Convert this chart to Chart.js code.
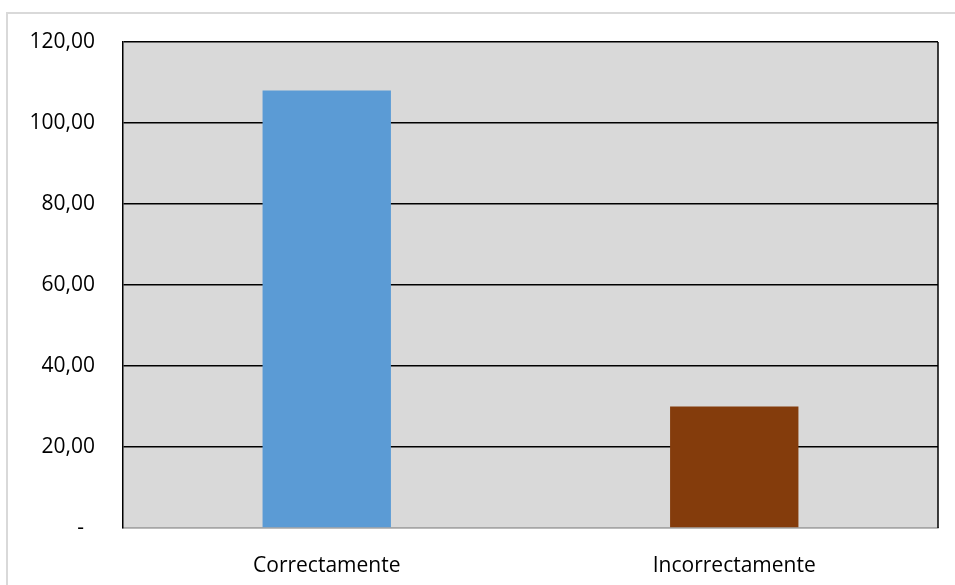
<!DOCTYPE html>
<html>
<head>
<meta charset="utf-8">
<script src="https://cdn.jsdelivr.net/npm/chart.js@4/dist/chart.umd.min.js"></script>
<style>
  html, body { margin: 0; padding: 0; background: #fff; overflow: hidden; }
  .frame { position: absolute; left: 6px; top: 12px; width: 1000px; height: 700px;
           border-left: 2px solid #d9d9d9; border-top: 2px solid #d9d9d9; }
  .graphBox { position: absolute; left: 0; top: 0; width: 955px; height: 585px; }
</style>
</head>
<body>
<div class="frame"></div>
<div class="graphBox"><canvas id="barChart" width="955" height="585"></canvas></div>
<script>
var categories = ["Correctamente", "Incorrectamente"];
var values = [108, 30];
var barColors = ["#5b9bd5", "#843c0c"];
var yTickLabels = ["-\u00a0\u00a0", "20,00", "40,00", "60,00", "80,00", "100,00", "120,00"];

// gray plot background + right edge of the frame
var plotFrame = {
  id: "plotFrame",
  beforeDraw: function (chart) {
    var ctx = chart.ctx, a = chart.chartArea;
    ctx.save();
    ctx.fillStyle = "#d9d9d9";
    ctx.fillRect(a.left, a.top, a.right - a.left, a.bottom - a.top);
    ctx.restore();
  },
  afterDraw: function (chart) {
    var ctx = chart.ctx, a = chart.chartArea;
    ctx.save();
    ctx.strokeStyle = "#000";
    ctx.lineWidth = 1.5;
    ctx.beginPath();
    ctx.moveTo(a.right, a.top);
    ctx.lineTo(a.right, a.bottom);
    ctx.stroke();
    ctx.restore();
  }
};

var ctx = document.getElementById("barChart").getContext("2d");
var barChart = new Chart(ctx, {
  type: "bar",
  data: {
    labels: categories,
    datasets: [{
      data: values,
      backgroundColor: barColors,
      borderWidth: 0,
      barPercentage: 0.63,
      categoryPercentage: 0.5
    }]
  },
  options: {
    responsive: false,
    animation: false,
    devicePixelRatio: 1,
    layout: { padding: { left: 0, right: 17, top: 42, bottom: 0 } },
    plugins: { legend: { display: false }, tooltip: { enabled: false } },
    scales: {
      x: {
        grid: { display: false },
        border: { display: true, color: "#a6a6a6", width: 1.5 },
        ticks: { color: "#000", font: { family: "Open Sans", size: 21 }, padding: 17 },
        afterFit: function (s) { s.height = 585 - 528 - 0; }
      },
      y: {
        min: 0,
        max: 120,
        ticks: {
          stepSize: 20,
          color: "#000",
          padding: 28,
          font: { family: "Open Sans", size: 21 },
          callback: function (v, i) { return yTickLabels[i]; }
        },
        grid: {
          drawTicks: false,
          lineWidth: 1.5,
          color: function (c) { return c.index === 0 ? "#a6a6a6" : "#000"; }
        },
        border: { display: true, color: "#000", width: 1.5 },
        afterFit: function (s) { s.width = 123; }
      }
    }
  },
  plugins: [plotFrame]
});
</script>
</body>
</html>
